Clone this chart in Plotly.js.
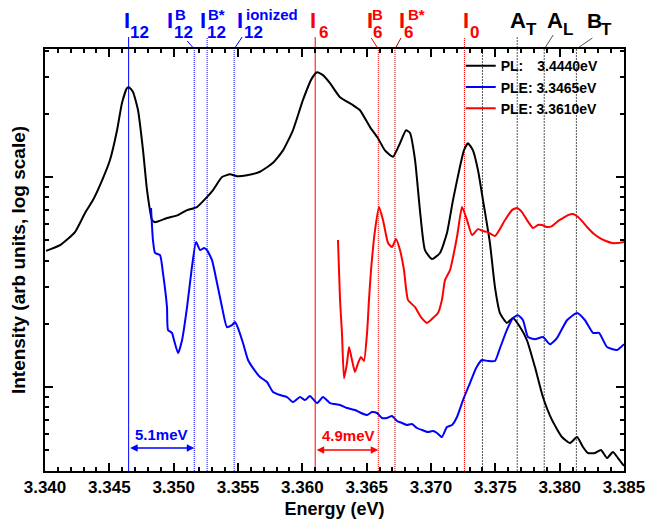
<!DOCTYPE html>
<html><head><meta charset="utf-8">
<script src="https://cdn.plot.ly/plotly-3.0.1.min.js"></script>
<style>html,body{margin:0;padding:0;background:#fff;} #chart{width:648px;height:531px;}</style>
</head><body><div id="chart"></div>
<script>
// ---------------- data ----------------
const plEnergy = [3.34008,3.34117,3.34233,3.34311,3.34373,3.34451,3.34505,3.34560,3.34598,3.34637,
3.34653,3.34684,3.34723,3.34762,3.34793,3.34832,3.34855,3.34948,3.35034,3.35104,
3.35181,3.35259,3.35306,3.35376,3.35438,3.35492,3.35570,3.35671,3.35772,3.35850,
3.35927,3.36005,3.36075,3.36114,3.36161,3.36215,3.36293,3.36394,3.36448,3.36526,
3.36588,3.36642,3.36705,3.36759,3.36806,3.36837,3.36876,3.36914,3.36953,3.37008,
3.37070,3.37124,3.37171,3.37225,3.37256,3.37287,3.37326,3.37365,3.37404,3.37458,
3.37497,3.37536,3.37590,3.37637,3.37692,3.37746,3.37808,3.37870,3.37940,3.38018,
3.38080,3.38135,3.38181,3.38220,3.38275,3.38321,3.38368,3.38414,3.38453,3.38500];
const plIntensity = [4.45,4.74,5.47,6.74,7.77,9.89,12.05,16.7,22.5,26.5,
26.8,25.4,20.8,13.4,8.67,6.24,6.10,6.38,6.59,6.96,
7.20,8.03,8.67,10.0,10.3,10.1,10.2,10.6,11.7,13.4,
16.7,23.3,29.6,31.6,30.6,28.0,24.0,22.0,20.8,17.3,
15.3,13.4,12.5,14.5,16.7,16.2,12.05,6.96,4.49,4.07,
4.35,5.41,7.77,11.2,13.4,14.5,13.4,10.8,7.77,4.85,
2.99,2.25,2.02,2.13,1.93,1.67,1.245,0.896,0.697,0.578,
0.541,0.578,0.518,0.485,0.485,0.501,0.459,0.490,0.459,0.421];

const pleAEnergy = [3.34824,3.34839,3.34855,3.34894,3.34917,3.34948,3.34956,3.34987,3.35003,3.35034,
3.35065,3.35104,3.35142,3.35174,3.35205,3.35236,3.35259,3.35298,3.35337,3.35376,
3.35414,3.35453,3.35477,3.35500,3.35539,3.35578,3.35617,3.35671,3.35725,3.35772,
3.35826,3.35881,3.35927,3.35982,3.36021,3.36059,3.36114,3.36161,3.36215,3.36293,
3.36347,3.36409,3.36456,3.36503,3.36541,3.36580,3.36619,3.36658,3.36697,3.36736,
3.36775,3.36813,3.36852,3.36891,3.36930,3.36977,3.37015,3.37047,3.37085,3.37124,
3.37163,3.37202,3.37249,3.37303,3.37350,3.37396,3.37443,3.37497,3.37536,3.37590,
3.37637,3.37676,3.37715,3.37754,3.37808,3.37870,3.37925,3.37979,3.38057,3.38135,
3.38197,3.38259,3.38306,3.38368,3.38445,3.38500];
const pleAIntensity = [7.12,5.01,4.35,4.25,3.49,2.40,1.87,1.81,1.67,1.45,
1.67,2.40,3.73,4.90,4.49,4.59,4.49,4.02,3.13,2.40,
1.93,1.97,2.04,1.91,1.62,1.345,1.23,1.116,1.056,0.947,
0.916,0.896,0.848,0.896,0.867,0.906,0.839,0.896,0.839,0.821,
0.794,0.777,0.752,0.736,0.760,0.752,0.712,0.712,0.728,0.689,
0.674,0.659,0.667,0.638,0.624,0.610,0.617,0.604,0.578,0.645,
0.659,0.720,0.867,1.045,1.23,1.345,1.33,1.33,1.53,1.87,
2.13,2.20,2.08,1.73,1.69,1.73,1.60,1.71,2.08,2.25,
2.08,1.81,1.81,1.55,1.50,1.60];

const pleBEnergy = [3.36277,3.36293,3.36308,3.36324,3.36347,3.36363,3.36386,3.36409,3.36433,3.36456,
3.36479,3.36503,3.36518,3.36534,3.36565,3.36596,3.36627,3.36666,3.36697,3.36728,
3.36759,3.36790,3.36821,3.36876,3.36922,3.36969,3.37015,3.37054,3.37085,3.37109,
3.37148,3.37202,3.37241,3.37280,3.37319,3.37365,3.37404,3.37443,3.37497,3.37575,
3.37629,3.37668,3.37707,3.37746,3.37793,3.37831,3.37862,3.37901,3.37940,3.37987,
3.38026,3.38065,3.38104,3.38143,3.38181,3.38220,3.38267,3.38313,3.38360,3.38407,
3.38453,3.38500];
const pleBIntensity = [5.01,2.60,1.81,1.10,1.30,1.55,1.345,1.18,1.30,1.39,
1.33,1.81,2.60,3.61,5.59,7.20,6.24,4.85,4.64,5.07,
4.49,3.61,2.60,2.40,2.15,2.02,2.13,2.25,2.60,3.23,
3.61,5.18,7.20,6.24,5.29,5.65,5.53,5.47,5.24,6.24,
6.96,7.12,6.81,6.24,5.72,5.91,5.91,5.78,5.84,6.17,
6.38,6.59,6.67,6.45,6.10,5.72,5.35,5.12,4.96,4.85,
4.85,4.90];

const seriesKind = ['PL:', 'PLE:', 'PLE:'];
const seriesDetect = ['3.4440eV', '3.3465eV', '3.3610eV'];

// marker lines (eV) and their labels
const markerEnergy = [3.3465, 3.3516, 3.3526, 3.3547, 3.3610, 3.3659, 3.3672, 3.3726, 3.3740, 3.3767, 3.3788, 3.3813];
const markerMain   = ['I', 'I', 'I', 'I', 'I', 'I', 'I', 'I', '', 'A', 'A', 'B'];
const markerSub    = ['12', '12', '12', '12', '6', '6', '6', '0', '', 'T', 'L', 'T'];
const markerSup    = ['', 'B', 'B*', 'ionized', '', 'B', 'B*', '', '', '', '', ''];

// splitting annotations
const splitLabel = ['5.1meV', '4.9meV'];
const splitFrom  = [3.3465, 3.3610];
const splitTo    = [3.3516, 3.3659];

const xRange = [3.340, 3.385];
const xMajorStep = 0.005, xMinorStep = 0.001;
const yMajorTicks = [1, 10];
const yMinorTicks = [0.4, 0.5, 0.6, 0.7, 0.8, 0.9, 2, 3, 4, 5, 6, 7, 8, 9, 20, 30, 40];

// ---------------- styling ----------------
const FONT = 'Liberation Sans, Arial, sans-serif';
const BLUE = '#0000ff', RED = '#ff0000', GRAY = '#555555', DARKRED = '#b00000';
const W = 648, H = 531, M = {l: 45, r: 24, t: 49, b: 60};
const plotH = H - M.t - M.b;
const FINE = '1px,1px';
const yLogRange = [-0.40, 1.61];

// per marker: colour, dash, extend above frame (px), leader [dx, dy] px
const markerStyle = [
  {c: BLUE, dash: 'solid', ext: 12},
  {c: BLUE, dash: FINE, lead: [-7, 8]},
  {c: BLUE, dash: FINE, ext: 12},
  {c: BLUE, dash: FINE, lead: [8, 12]},
  {c: RED, dash: 'solid', ext: 12},
  {c: RED, dash: FINE, lead: [-7, 11]},
  {c: DARKRED, dash: FINE, lead: [6, 11]},
  {c: RED, dash: FINE, ext: 12},
  {c: GRAY, dash: '2px,1px'},
  {c: GRAY, dash: '2px,1px', ext: 13},
  {c: GRAY, dash: '2px,1px', lead: [9, 14]},
  {c: GRAY, dash: '2px,1px', lead: [16, 11]}
];
// label placement: [xshift, yshift, size] for main / sub / sup
const labelPlace = [
  {m: [-2, 28.5, 22], s: [10.5, 17, 17]},
  {m: [-24, 28.5, 22], s: [-11, 17, 17], p: [-13.5, 35, 15]},
  {m: [-4, 28.5, 22], s: [9, 17, 17], p: [9.5, 35, 15]},
  {m: [6, 28.5, 22], s: [19.5, 17, 17], p: [37.5, 35, 15]},
  {m: [-2, 28.5, 22], s: [8, 17, 17]},
  {m: [-8, 28.5, 22], s: [-1, 17, 17], p: [-1, 35, 15]},
  {m: [7, 28.5, 22], s: [14, 17, 17], p: [21.5, 35, 15]},
  {m: [2, 28.5, 22], s: [10, 17, 17]},
  null,
  {m: [1, 29, 22], s: [14.5, 19.5, 17]},
  {m: [10.5, 29, 22], s: [23.5, 19.5, 17]},
  {m: [18, 29, 21], s: [30.5, 19.5, 17]}
];

const colors = ['#000000', BLUE, RED];
const xs = [plEnergy, pleAEnergy, pleBEnergy];
const ys = [plIntensity, pleAIntensity, pleBIntensity];
const pads = ['\u2003', '\u00a0', '\u00a0'];
const traces = xs.map((x, i) => ({
  type: 'scatter', mode: 'lines', x: x, y: ys[i],
  name: seriesKind[i] + pads[i] + seriesDetect[i],
  line: {color: colors[i], width: 2, shape: 'spline', smoothing: 0.5}
}));
// carrier traces (no marks) so the minor-tick overlay axes are drawn
traces.push({type: 'scatter', mode: 'lines', x: [], y: [], xaxis: 'x2', yaxis: 'y', showlegend: false, hoverinfo: 'skip'});
traces.push({type: 'scatter', mode: 'lines', x: [], y: [], xaxis: 'x', yaxis: 'y2', showlegend: false, hoverinfo: 'skip'});

const shapes = [];
const annotations = [];
markerEnergy.forEach((E, i) => {
  const st = markerStyle[i];
  shapes.push({type: 'line', layer: 'below', xref: 'x', x0: E, x1: E, yref: 'paper', y0: 0,
    y1: 1 + (st.ext || 0) / plotH, line: {color: st.c, width: 1, dash: st.dash}});
  if (st.lead) {
    shapes.push({type: 'line', layer: 'below', xref: 'x', xsizemode: 'pixel', xanchor: E, x0: 0, x1: st.lead[0],
      yref: 'paper', ysizemode: 'pixel', yanchor: 1, y0: 0, y1: st.lead[1], line: {color: st.c, width: 1}});
  }
  const lp = labelPlace[i];
  if (!lp) return;
  const lc = (st.c === GRAY) ? '#000000' : (st.c === DARKRED ? RED : st.c);
  const mk = (text, p) => ({xref: 'x', x: E, xanchor: 'center', xshift: p[0], yref: 'paper', y: 1,
    yanchor: 'middle', yshift: p[1], text: text, showarrow: false, borderpad: 0, borderwidth: 0,
    font: {family: FONT, size: p[2], color: lc, weight: 'bold'}});
  annotations.push(mk(markerMain[i], lp.m));
  if (markerSub[i]) annotations.push(mk(markerSub[i], lp.s));
  if (markerSup[i] && lp.p) annotations.push(mk(markerSup[i], lp.p));
});

const splitColor = [BLUE, RED];
const splitArrowY = [23, 21];
const splitTextY = [37, 36];
const splitTextDx = [0.5, 2];
splitLabel.forEach((t, i) => {
  annotations.push({xref: 'x', x: splitTo[i], yref: 'paper', y: 0, yshift: splitArrowY[i],
    axref: 'x', ax: splitFrom[i], ayref: 'pixel', ay: 0, text: '', showarrow: true,
    arrowhead: 2, arrowside: 'end+start', arrowsize: 1, arrowwidth: 1.5, arrowcolor: splitColor[i],
    standoff: 0, startstandoff: 0});
  annotations.push({xref: 'x', x: (splitFrom[i] + splitTo[i]) / 2, xanchor: 'center', xshift: splitTextDx[i],
    yref: 'paper', y: 0, yanchor: 'middle', yshift: splitTextY[i], text: t, showarrow: false,
    borderpad: 0, font: {family: FONT, size: 15, color: splitColor[i], weight: 'bold'}});
});

const tickBase = {ticks: 'inside', tickwidth: 2, tickcolor: '#000000', showgrid: false, zeroline: false};
const layout = {
  width: W, height: H, margin: M,
  paper_bgcolor: '#ffffff', plot_bgcolor: '#ffffff',
  font: {family: FONT, size: 17, color: '#000000', weight: 'bold'},
  showlegend: true,
  legend: {x: 0.718, y: 0.997, xanchor: 'left', yanchor: 'top', bgcolor: 'rgba(0,0,0,0)',
    borderwidth: 0, font: {family: FONT, size: 14, color: '#000000', weight: 'bold'}},
  xaxis: Object.assign({}, tickBase, {range: xRange, tickmode: 'linear', tick0: xRange[0], dtick: xMajorStep, tickformat: '.3f',
    ticklen: 8, showline: true, linewidth: 2, linecolor: '#000', mirror: 'ticks',
    tickfont: {family: FONT, size: 17, weight: 'bold'},
    title: {text: 'Energy (eV)', standoff: 6, font: {family: FONT, size: 18, weight: 'bold'}}}),
  xaxis2: Object.assign({}, tickBase, {overlaying: 'x', anchor: 'y', side: 'bottom', range: xRange,
    tickmode: 'linear', tick0: xRange[0], dtick: xMinorStep, ticklen: 4, mirror: 'ticks', showline: false, showticklabels: false}),
  yaxis: Object.assign({}, tickBase, {type: 'log', range: yLogRange, tickmode: 'array', tickvals: yMajorTicks,
    ticklen: 8, showticklabels: false, showline: true, linewidth: 2, linecolor: '#000', mirror: 'ticks',
    title: {text: 'Intensity (arb units, log scale)', standoff: 12, font: {family: FONT, size: 19, weight: 'bold'}}}),
  yaxis2: Object.assign({}, tickBase, {overlaying: 'y', anchor: 'x', side: 'left', type: 'log', range: yLogRange,
    tickmode: 'array', tickvals: yMinorTicks, ticklen: 4, mirror: 'ticks', showline: false, showticklabels: false}),
  shapes: shapes,
  annotations: annotations
};

Plotly.newPlot('chart', traces, layout, {displayModeBar: false, staticPlot: true});
</script>
</body></html>
